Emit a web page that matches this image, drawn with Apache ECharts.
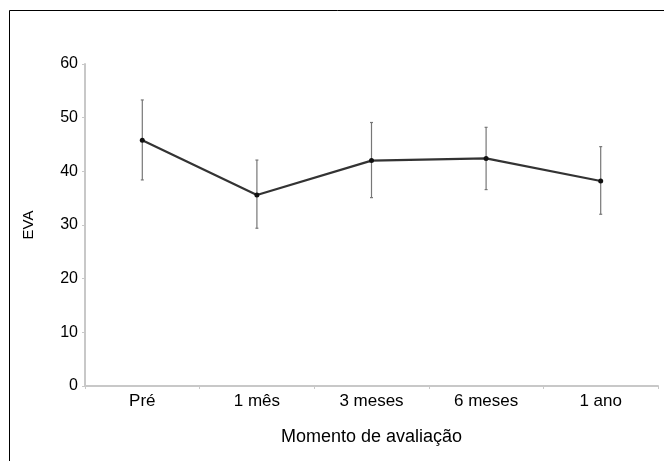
<!DOCTYPE html>
<html>
<head>
<meta charset="utf-8">
<script src="https://cdn.jsdelivr.net/npm/echarts@6/dist/echarts.min.js"></script>
<style>
html,body{margin:0;padding:0;background:#fff;}
#chart{width:664px;height:461px;}
</style>
</head>
<body>
<div id="chart"></div>
<script>
const categories = ['Pré', '1 mês', '3 meses', '6 meses', '1 ano'];
const means = [45.8, 35.6, 42.0, 42.4, 38.2];
const upper = [53.3, 42.1, 49.1, 48.2, 44.6];
const lower = [38.4, 29.4, 35.1, 36.6, 32.0];
const yTicks = [0, 10, 20, 30, 40, 50, 60];

const errData = categories.map((c, i) => [i, lower[i], upper[i]]);
const font = 'Liberation Sans, Arial, Helvetica, sans-serif';

const chart = echarts.init(document.getElementById('chart'), null, {renderer: 'canvas'});
chart.setOption({
  animation: false,
  backgroundColor: '#fff',
  graphic: [{
    type: 'rect',
    shape: {x: 9.5, y: 10.5, width: 700, height: 500},
    style: {fill: 'none', stroke: '#000', lineWidth: 1},
    silent: true
  }],
  grid: {left: 85, right: 6, top: 64, bottom: 75},
  xAxis: {
    type: 'category',
    data: categories,
    boundaryGap: true,
    name: 'Momento de avaliação',
    nameLocation: 'middle',
    nameGap: 42,
    nameTextStyle: {fontFamily: font, fontSize: 18, color: '#000'},
    axisLine: {lineStyle: {color: '#c8c8c8', width: 2}},
    axisTick: {show: true, length: 3, lineStyle: {color: '#c8c8c8'}},
    axisLabel: {fontFamily: font, fontSize: 17, color: '#000', margin: 7},
    splitLine: {show: false}
  },
  yAxis: {
    type: 'value',
    min: yTicks[0],
    max: yTicks[yTicks.length - 1],
    interval: 10,
    name: 'EVA',
    nameLocation: 'middle',
    nameGap: 49,
    nameRotate: 90,
    nameTextStyle: {fontFamily: font, fontSize: 15, color: '#000'},
    axisLine: {show: true, lineStyle: {color: '#c8c8c8', width: 2}},
    axisTick: {show: true, length: 3, lineStyle: {color: '#c8c8c8'}},
    axisLabel: {fontFamily: font, fontSize: 16, color: '#000', margin: 7},
    splitLine: {show: false}
  },
  series: [
    {
      type: 'custom',
      z: 2,
      data: errData,
      renderItem: function (params, api) {
        const x = api.value(0);
        const lo = api.coord([x, api.value(1)]);
        const hi = api.coord([x, api.value(2)]);
        return {
          type: 'group',
          children: [
            {type: 'line', shape: {x1: lo[0], y1: lo[1], x2: hi[0], y2: hi[1]}, style: {stroke: '#777', lineWidth: 1.2}},
            {type: 'line', shape: {x1: lo[0] - 1.5, y1: lo[1], x2: lo[0] + 1.5, y2: lo[1]}, style: {stroke: '#777', lineWidth: 1.2}},
            {type: 'line', shape: {x1: hi[0] - 1.5, y1: hi[1], x2: hi[0] + 1.5, y2: hi[1]}, style: {stroke: '#777', lineWidth: 1.2}}
          ]
        };
      }
    },
    {
      type: 'line',
      z: 3,
      data: means,
      symbol: 'circle',
      symbolSize: 5,
      itemStyle: {color: '#111'},
      lineStyle: {color: '#333', width: 2.2}
    }
  ]
});
</script>
</body>
</html>
